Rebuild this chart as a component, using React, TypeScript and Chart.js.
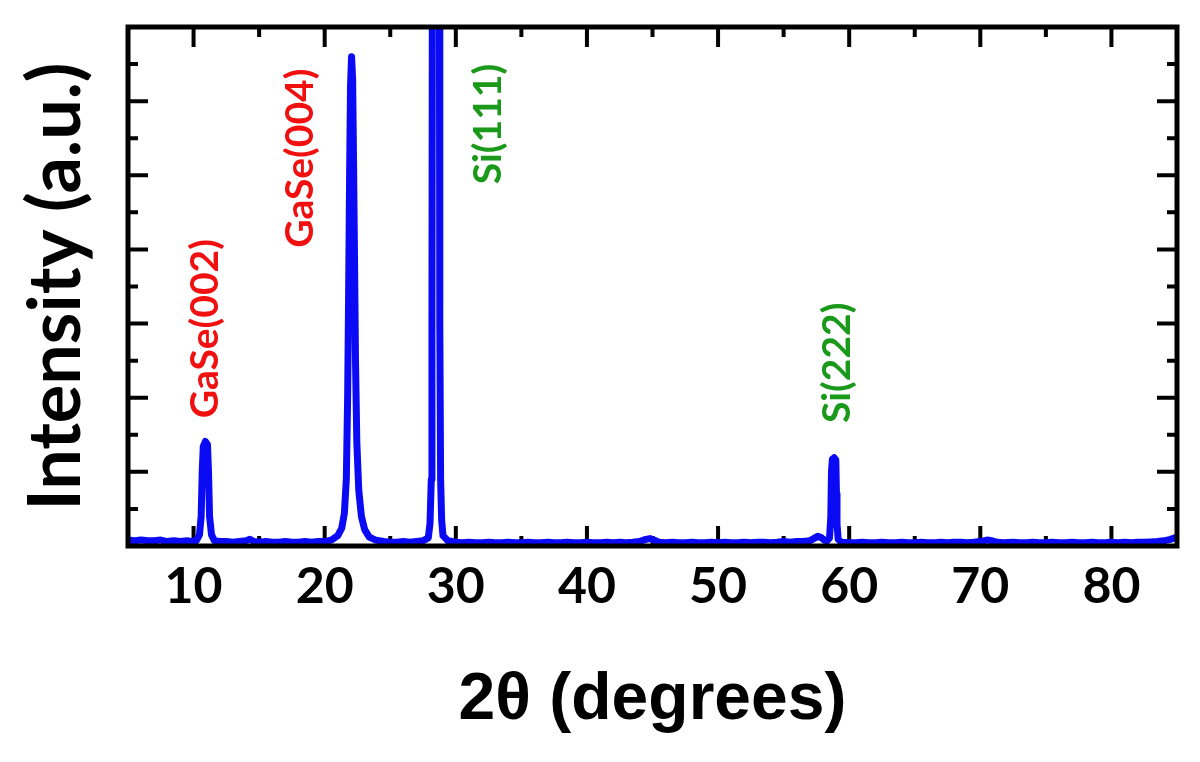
import React, { useEffect, useRef } from "react";
import { Chart, registerables } from "chart.js";

Chart.register(...registerables);

const twoTheta: number[] = [
  5.0, 5.5, 6.0, 6.5, 7.0, 7.5, 8.0, 8.5, 9.0, 9.5, 9.8, 10.2,
  10.45, 10.58, 10.66, 10.74, 10.9, 11.06, 11.14, 11.22, 11.37, 11.6,
  12.0, 12.5, 13.0, 13.5, 14.0, 14.3, 14.6, 15.0, 15.5, 16.0, 16.5, 17.0, 17.5,
  18.0, 18.5, 19.0, 19.5, 20.0, 20.5,
  21.0, 21.3, 21.5, 21.65, 21.75, 21.82, 21.9, 21.97, 22.05, 22.13, 22.2, 22.28,
  22.35, 22.45, 22.6, 22.8, 23.05, 23.4, 23.9,
  24.5, 25.0, 25.5, 26.0, 26.5, 27.0, 27.5, 27.9,
  28.03, 28.13, 28.18, 28.22, 28.47, 28.74, 28.78, 28.84, 28.92, 29.02, 29.4,
  30.0, 30.5, 31.0, 31.5, 32.0, 32.5, 33.0, 33.5, 34.0, 34.5, 35.0, 35.5, 36.0,
  36.5, 37.0, 37.5, 38.0, 38.5, 39.0, 39.5, 40.0, 40.5, 41.0, 41.5, 42.0, 42.5,
  43.0, 43.5, 44.0, 44.5, 44.8, 45.1, 45.5, 46.0, 46.5, 47.0, 47.5, 48.0, 48.5,
  49.0, 49.5, 50.0, 50.5, 51.0, 51.5, 52.0, 52.5, 53.0, 53.5, 54.0, 54.5, 55.0,
  55.5, 56.0, 56.5, 57.0, 57.3, 57.6, 57.9, 58.1, 58.3,
  58.5, 58.6, 58.65, 58.72, 58.85, 58.98, 59.03, 59.07, 59.16, 59.4,
  60.0, 60.5, 61.0, 61.5, 62.0, 62.5, 63.0, 63.5, 64.0, 64.5, 65.0, 65.5, 66.0,
  66.5, 67.0, 67.5, 68.0, 68.5, 69.0, 69.5, 70.0, 70.5, 70.9, 71.3, 71.8, 72.5,
  73.0, 73.5, 74.0, 74.5, 75.0, 75.5, 76.0, 76.5, 77.0, 77.5, 78.0, 78.5, 79.0,
  79.5, 80.0, 80.5, 81.0, 81.5, 82.0, 82.5, 83.0, 83.5, 84.0, 84.5, 85.0,
];

const intensity: number[] = [
  0.08, 0.07, 0.08, 0.07, 0.07, 0.08, 0.06, 0.07, 0.06, 0.07, 0.06, 0.07,
  0.15, 0.4, 1.0, 1.34, 1.41, 1.37, 1.0, 0.4, 0.15, 0.07,
  0.06, 0.06, 0.05, 0.06, 0.07, 0.09, 0.06, 0.05, 0.06, 0.05, 0.05, 0.06, 0.05,
  0.05, 0.06, 0.05, 0.06, 0.06, 0.08,
  0.14, 0.24, 0.44, 0.9, 2.0, 3.3, 5.0, 6.2, 6.6, 6.3, 5.2, 3.8,
  2.5, 1.4, 0.75, 0.4, 0.22, 0.12, 0.08,
  0.06, 0.05, 0.05, 0.06, 0.05, 0.06, 0.07, 0.11,
  0.3, 0.9, 3.0, 9.0, 30.0, 9.0, 3.0, 0.9, 0.35, 0.14, 0.07,
  0.05, 0.045, 0.05, 0.045, 0.045, 0.05, 0.045, 0.045, 0.05, 0.045, 0.045, 0.05, 0.045,
  0.045, 0.05, 0.045, 0.045, 0.05, 0.045, 0.045, 0.05, 0.045, 0.045, 0.05, 0.045, 0.05,
  0.045, 0.05, 0.06, 0.09, 0.1, 0.08, 0.05, 0.045, 0.05, 0.045, 0.045, 0.05, 0.045,
  0.045, 0.05, 0.045, 0.05, 0.045, 0.045, 0.05, 0.045, 0.05, 0.05, 0.045, 0.05, 0.06,
  0.05, 0.06, 0.06, 0.07, 0.1, 0.13, 0.11, 0.08, 0.07,
  0.11, 0.4, 1.0, 1.17, 1.19, 1.16, 0.7, 0.3, 0.09, 0.05,
  0.045, 0.045, 0.05, 0.045, 0.045, 0.05, 0.045, 0.045, 0.05, 0.045, 0.045, 0.05, 0.045,
  0.045, 0.05, 0.045, 0.05, 0.05, 0.045, 0.05, 0.06, 0.08, 0.07, 0.05, 0.045, 0.05,
  0.045, 0.045, 0.05, 0.045, 0.045, 0.05, 0.045, 0.045, 0.05, 0.045, 0.045, 0.05, 0.045,
  0.045, 0.05, 0.045, 0.05, 0.045, 0.05, 0.05, 0.055, 0.06, 0.07, 0.09, 0.12,
];

// Peak labels
const peakLabels: string[] = ["GaSe(002)", "GaSe(004)", "Si(111)", "Si(222)"];
const peakLabelX: number[] = [10.87, 18.12, 32.46, 59.08];
const peakLabelY: number[] = [2.93, 5.23, 5.69, 2.47];
const peakLabelColors: string[] = ["#f01010", "#f01010", "#1a991a", "#1a991a"];

// Axis settings
const xMin = 5;
const xMax = 85;
const xStep = 5;
const xLabeled: number[] = [10, 20, 30, 40, 50, 60, 70, 80];
const yMin = 0;
const yMax = 7;
const yStep = 0.5;

const xTitle = "2θ (degrees)";
const yTitle = "Intensity (a.u.)";

const frameTicksPlugin = {
  id: "frameTicks",
  beforeDatasetsDraw(chart: any) {
    const { ctx, chartArea, scales } = chart;
    const { left, right, top, bottom } = chartArea;
    ctx.save();
    ctx.strokeStyle = "#000";
    ctx.lineWidth = 4;
    ctx.lineCap = "butt";
    const xs = scales.x;
    for (const t of xs.ticks) {
      const v = t.value;
      if (v <= xMin || v >= xMax) continue;
      const px = xs.getPixelForValue(v);
      const len = v % 10 === 0 ? 20 : 10;
      ctx.beginPath();
      ctx.moveTo(px, bottom);
      ctx.lineTo(px, bottom - len);
      ctx.moveTo(px, top);
      ctx.lineTo(px, top + len);
      ctx.stroke();
    }
    const ys = scales.y;
    for (const t of ys.ticks) {
      const v = t.value;
      if (v <= yMin || v >= yMax) continue;
      const py = ys.getPixelForValue(v);
      const len = Math.abs(v - Math.round(v)) < 1e-6 ? 20 : 10;
      ctx.beginPath();
      ctx.moveTo(left, py);
      ctx.lineTo(left + len, py);
      ctx.moveTo(right, py);
      ctx.lineTo(right - len, py);
      ctx.stroke();
    }
    ctx.restore();
  },
  afterDatasetsDraw(chart: any) {
    const { ctx, chartArea } = chart;
    const { left, right, top, bottom } = chartArea;
    ctx.save();
    ctx.strokeStyle = "#000";
    ctx.lineWidth = 5;
    ctx.strokeRect(left, top, right - left, bottom - top);
    // peak labels
    const xs = chart.scales.x;
    const ys = chart.scales.y;
    ctx.font = "bold 39px Lato, 'Open Sans', sans-serif";
    ctx.textAlign = "center";
    ctx.textBaseline = "middle";
    peakLabels.forEach((txt, i) => {
      const px = xs.getPixelForValue(peakLabelX[i]);
      const py = ys.getPixelForValue(peakLabelY[i]);
      ctx.save();
      ctx.translate(px, py);
      ctx.rotate(-Math.PI / 2);
      ctx.fillStyle = peakLabelColors[i];
      ctx.fillText(txt, 0, 0);
      ctx.restore();
    });
    ctx.restore();
  },
};

export default function App() {
  const canvasRef = useRef<HTMLCanvasElement | null>(null);

  useEffect(() => {
    document.body.style.margin = "0";
    const canvas = canvasRef.current;
    if (!canvas) return;
    const points = twoTheta.map((x, i) => ({ x, y: intensity[i] }));
    const chart = new Chart(canvas, {
      type: "line",
      data: {
        datasets: [
          {
            data: points,
            borderColor: "#0a0af5",
            borderWidth: 7,
            pointRadius: 0,
            tension: 0,
            borderJoinStyle: "round",
            borderCapStyle: "round",
            fill: false,
          },
        ],
      },
      options: {
        responsive: false,
        animation: false,
        events: [],
        layout: { padding: { top: 27, right: 23, left: 0, bottom: 0 } },
        plugins: {
          legend: { display: false },
          tooltip: { enabled: false },
          title: { display: false },
        },
        scales: {
          x: {
            type: "linear",
            min: xMin,
            max: xMax,
            grid: { display: false, drawTicks: false },
            border: { display: false },
            ticks: {
              stepSize: xStep,
              autoSkip: false,
              maxRotation: 0,
              padding: 11,
              color: "#000",
              font: { family: "Lato, 'Open Sans', sans-serif", size: 50, weight: "bold" },
              callback: (v: any) => (xLabeled.includes(Number(v)) ? String(v) : ""),
            },
            title: {
              display: true,
              text: xTitle,
              color: "#000",
              padding: { top: 0, bottom: 22 },
              font: { family: "'Liberation Sans', Arial, sans-serif", size: 66, weight: "bold" },
            },
            afterFit: (s: any) => {
              s.height = 216;
            },
          },
          y: {
            type: "linear",
            min: yMin,
            max: yMax,
            grid: { display: false, drawTicks: false },
            border: { display: false },
            ticks: { stepSize: yStep, display: false },
            title: {
              display: true,
              text: yTitle,
              color: "#000",
              padding: { top: 14, bottom: 0 },
              font: { family: "Lato, 'Open Sans', sans-serif", size: 72, weight: "bold" },
            },
            afterFit: (s: any) => {
              s.width = 128;
            },
          },
        },
      },
      plugins: [frameTicksPlugin],
    });
    return () => chart.destroy();
  }, []);

  return (
    <div style={{ width: 1200, height: 762, background: "#fff" }}>
      <canvas ref={canvasRef} width={1200} height={762} />
    </div>
  );
}
